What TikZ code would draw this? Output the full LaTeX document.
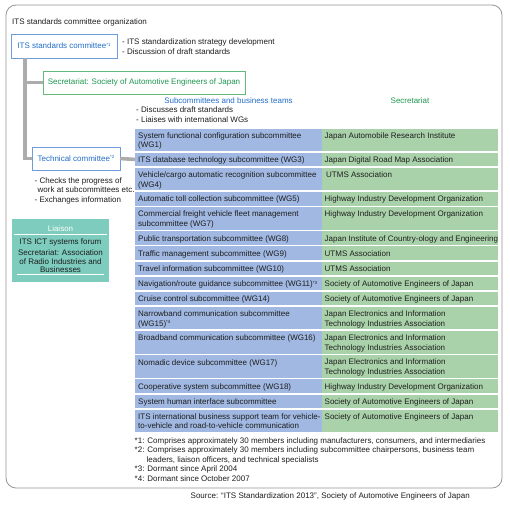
\documentclass[tikz,border=0pt]{standalone}
\usepackage{fontspec}
\setmainfont{Liberation Sans}
\definecolor{cellblue}{RGB}{160,184,226}
\definecolor{cellgreen}{RGB}{170,210,170}
\definecolor{liaisonteal}{RGB}{125,204,190}
\definecolor{bluetext}{RGB}{35,110,200}
\definecolor{greentext}{RGB}{30,150,80}
\definecolor{bluestroke}{RGB}{110,155,220}
\definecolor{greenstroke}{RGB}{100,185,125}
\definecolor{connGray}{RGB}{172,172,172}
\definecolor{frameGray}{RGB}{150,150,150}
\definecolor{txtc}{RGB}{30,30,30}
\newcommand\fnm[1]{\raisebox{2.4pt}{\fontsize{4.5}{5}\selectfont #1}}
\newcommand\tabrow[5]{%
  \node[bcell, minimum height=#3pt] (b#1) at (135,#2) {};
  \node[gcell, minimum height=#3pt] (g#1) at (322,#2) {};
  \node[celltext] (bt#1) at ([xshift=3pt,yshift=-3.6pt]b#1.north west) {#4};
  \node[celltext] (gt#1) at ([xshift=2.5pt,yshift=-3.6pt]g#1.north west) {#5};
}
\begin{document}
\begin{tikzpicture}[x=1pt,y=-1pt,font=\fontsize{8}{9.6}\selectfont,
  txt/.style={inner sep=0pt, align=left, text=txtc, execute at begin node=\rule{0pt}{6pt}},
  celltext/.style={txt, anchor=north west},
  bcell/.style={anchor=north west, fill=cellblue, draw=none, inner sep=0pt, outer sep=0pt, minimum width=187pt},
  gcell/.style={anchor=north west, fill=cellgreen, draw=none, inner sep=0pt, outer sep=0pt, minimum width=176pt},
  bluebox/.style={draw=bluestroke, line width=0.9pt, fill=white, text=bluetext, inner sep=0pt, outer sep=0pt},
  greenbox/.style={draw=greenstroke, line width=0.9pt, fill=white, text=greentext, inner sep=0pt, outer sep=0pt},
  conn/.style={draw=connGray, line width=3.6pt},
  framebox/.style={draw=frameGray, line width=0.8pt, rounded corners=10pt, anchor=north west, inner sep=0pt, outer sep=0pt}]
\useasboundingbox (0,0) rectangle (510,506);
\fill[white] (0,0) rectangle (510,506);
\node[framebox, minimum width=496pt, minimum height=483pt] (frame) at (6,5) {};

\node[txt, anchor=north west] (title) at (12,18) {ITS standards committee organization};

\node[bluebox, minimum width=106pt, minimum height=24pt] (itsc) at (64,46) {ITS standards committee\fnm{*1}};
\node[greenbox, minimum width=202pt, minimum height=23pt] (secr) at (144,82.5) {Secretariat: Society of Automotive Engineers of Japan};
\node[bluebox, minimum width=88pt, minimum height=23pt] (tech) at (76,158.5) {Technical committee\fnm{*2}};

\node[txt, anchor=north west] (itscnote) at (122,39) {- ITS standardization strategy development\\- Discussion of draft standards};

\node[txt, anchor=center, text=bluetext] (hsub) at (228.5,100.5) {Subcommittees and business teams};
\node[txt, anchor=center, text=greentext] (hsec) at (410,100.5) {Secretariat};
\node[txt, anchor=north west] (subnote) at (136,107) {- Discusses draft standards\\- Liaises with international WGs};

\node[txt, anchor=north west] (technote) at (34.5,177) {- Checks the progress of\\\hspace*{3pt}work at subcommittees etc.\\- Exchanges information};

% table
\tabrow{1}{128.5}{22.6}{System functional configuration subcommittee\\(WG1)}{Japan Automobile Research Institute}
\tabrow{2}{152.7}{13.5}{ITS database technology subcommittee (WG3)}{Japan Digital Road Map Association}
\tabrow{3}{167.8}{22.6}{Vehicle/cargo automatic recognition subcommittee\\(WG4)}{\hspace*{1.5pt}UTMS Association}
\tabrow{4}{192.0}{13.5}{Automatic toll collection subcommittee (WG5)}{Highway Industry Development Organization}
\tabrow{5}{207.1}{22.6}{Commercial freight vehicle fleet management\\subcommittee (WG7)}{Highway Industry Development Organization}
\tabrow{6}{231.3}{13.5}{Public transportation subcommittee (WG8)}{Japan Institute of Country-ology and Engineering}
\tabrow{7}{246.4}{13.5}{Traffic management subcommittee (WG9)}{UTMS Association}
\tabrow{8}{261.5}{13.5}{Travel information subcommittee (WG10)}{UTMS Association}
\tabrow{9}{276.6}{13.5}{Navigation/route guidance subcommittee (WG11)\fnm{*3}}{Society of Automotive Engineers of Japan}
\tabrow{10}{291.7}{13.5}{Cruise control subcommittee (WG14)}{Society of Automotive Engineers of Japan}
\tabrow{11}{306.8}{22.6}{Narrowband communication subcommittee\\(WG15)\fnm{*4}}{Japan Electronics and Information\\Technology Industries Association}
\tabrow{12}{331.0}{22.6}{Broadband communication subcommittee (WG16)}{Japan Electronics and Information\\Technology Industries Association}
\tabrow{13}{355.2}{22.6}{Nomadic device subcommittee (WG17)}{Japan Electronics and Information\\Technology Industries Association}
\tabrow{14}{379.4}{13.5}{Cooperative system subcommittee (WG18)}{Highway Industry Development Organization}
\tabrow{15}{394.5}{13.5}{System human interface subcommittee}{Society of Automotive Engineers of Japan}
\tabrow{16}{409.6}{22.6}{ITS international business support team for vehicle-\\to-vehicle and road-to-vehicle communication}{Society of Automotive Engineers of Japan}

% connectors
\coordinate (trunk) at ([xshift=14pt]itsc.south west);
\draw[conn] (trunk) |- (tech.west);
\draw[conn] (secr.west) -- (trunk |- secr.west);
\draw[conn] (tech.east) -- (b2.west);

% liaison
\node[fill=liaisonteal, draw=none, anchor=north west, inner sep=0pt, minimum width=97pt, minimum height=63.5pt] (liaison) at (12,218.3) {};
\node[txt, anchor=center, text=white] (liaisonhead) at (60.5,228.5) {Liaison};
\draw[white, line width=0.6pt] ([xshift=2pt]liaison.west |- 0,234) -- ([xshift=-2pt]liaison.east |- 0,234);
\node[txt, anchor=north, align=center] (liaisonbody) at (60.5,238.5) {ITS ICT systems forum\\[1.5pt]{\fontsize{8}{8.6}\selectfont Secretariat: Association}\\[-0.9pt]of Radio Industries and\\[-0.9pt]Businesses};
\draw[white, line width=0.6pt] ([xshift=5pt]liaison.west |- 0,274) -- ([xshift=-5pt]liaison.east |- 0,274);

% footnotes
\node[txt, anchor=north west] (notes) at (134.5,437) {*1: Comprises approximately 30 members including manufacturers, consumers, and intermediaries\\*2: Comprises approximately 30 members including subcommittee chairpersons, business team\\\hspace*{12pt}leaders, liaison officers, and technical specialists\\*3: Dormant since April 2004\\*4: Dormant since October 2007};

\node[txt, anchor=north east] (source) at (470,492) {Source: “ITS Standardization 2013”, Society of Automotive Engineers of Japan};
\end{tikzpicture}
\end{document}
